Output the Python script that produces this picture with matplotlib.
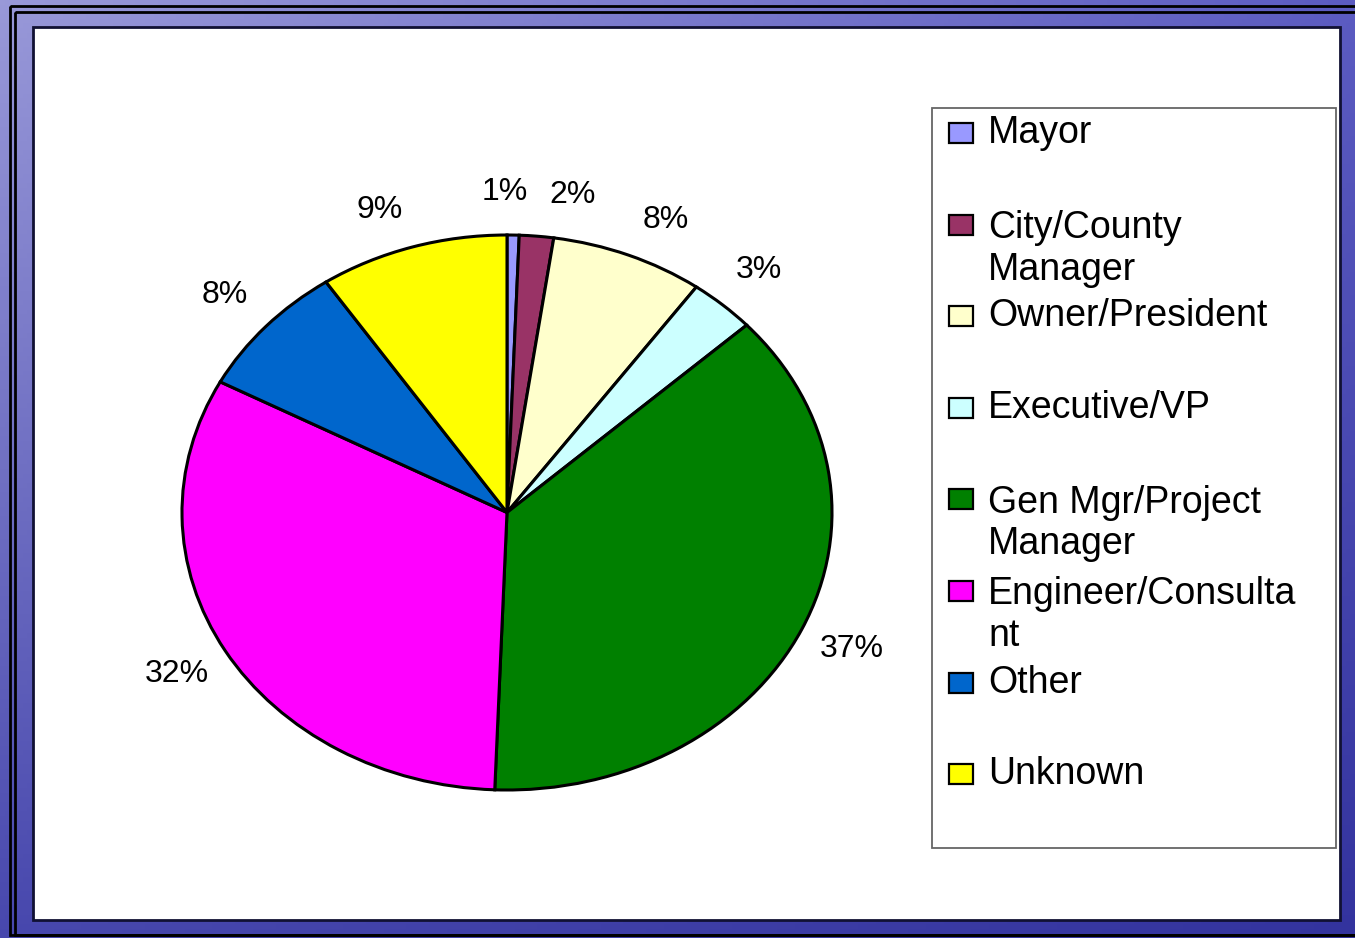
import numpy as np
import matplotlib
matplotlib.use("Agg")
import matplotlib.pyplot as plt
from matplotlib.patches import Rectangle

# --- data -------------------------------------------------------------
categories = ["Mayor", "City/County Manager", "Owner/President", "Executive/VP",
              "Gen Mgr/Project Manager", "Engineer/Consultant", "Other", "Unknown"]
legend_labels = ["Mayor", "City/County\nManager", "Owner/President", "Executive/VP",
                 "Gen Mgr/Project\nManager", "Engineer/Consulta\nnt", "Other", "Unknown"]
shares = [0.6, 1.7, 7.6, 3.3, 37.4, 32.2, 7.8, 9.4]
colors = ["#9999FF", "#993366", "#FFFFCC", "#CCFFFF",
          "#008000", "#FF00FF", "#0066CC", "#FFFF00"]

# label nudges (data units) for slices where Excel moved the label
label_nudge = {0: (-0.03, -0.015), 1: (0.095, -0.02), 2: (0.05, -0.03), 7: (-0.05, -0.03)}

plt.rcParams['font.family'] = ['Liberation Sans', 'DejaVu Sans']

W, H = 1355, 938
fig = plt.figure(figsize=(W / 100, H / 100), dpi=100)

# background axes in pixel coordinates (y down)
bg = fig.add_axes([0, 0, 1, 1])
bg.set_xlim(0, W)
bg.set_ylim(H, 0)
bg.axis('off')

# blue slide background, lighter top-left, darker bottom-right
yy, xx = np.mgrid[0:1:200j, 0:1:300j]
tl = np.array([0.60, 0.60, 0.85])
tr = np.array([0.36, 0.36, 0.76])
bl = np.array([0.28, 0.28, 0.68])
br = np.array([0.20, 0.20, 0.62])
grad = ((1 - yy)[..., None] * ((1 - xx)[..., None] * tl + xx[..., None] * tr)
        + yy[..., None] * ((1 - xx)[..., None] * bl + xx[..., None] * br))
bg.imshow(grad, extent=[0, W, H, 0], aspect='auto', zorder=0)

# double black frame lines (slide is cropped on the right)
bg.add_patch(Rectangle((10, 6), W + 50, 929, fill=False, ec='black', lw=2, zorder=1))
bg.add_patch(Rectangle((15, 12), W + 50, 923, fill=False, ec='black', lw=2, zorder=1))

# white chart panel
bg.add_patch(Rectangle((33, 27), 1307, 893, fc='white', ec='#111133', lw=2, zorder=2))

# legend box drawn by hand (first line of each entry carries the key)
bg.add_patch(Rectangle((932, 108), 404, 740, fc='white', ec='#666666', lw=1.3, zorder=3))
leg_fs = 27
line_h = 1.2 * leg_fs * 100 / 72
first_baseline = 143
step = 91.6
for i, (lab, col) in enumerate(zip(legend_labels, colors)):
    base = first_baseline + i * step
    nlines = lab.count("\n") + 1
    bg.add_patch(Rectangle((949, base - 20), 24, 20, fc=col, ec='black', lw=1.6, zorder=4))
    # va='baseline' pins the last line, so shift down for wrapped labels
    bg.text(988, base + (nlines - 1) * line_h, lab, fontsize=leg_fs,
            va='baseline', ha='left', linespacing=1.2, zorder=5, color='black')

# pie, stretched into an ellipse
ax = fig.add_axes([182 / W, (H - 790) / H, 650 / W, 555 / H])
wedges, texts, autotexts = ax.pie(
    shares, colors=colors, startangle=90, counterclock=False,
    autopct='%1.0f%%', pctdistance=1.17,
    wedgeprops=dict(edgecolor='black', linewidth=2.2),
    textprops=dict(fontsize=23, color='black'))
ax.set_aspect('auto')
ax.set_xlim(-1, 1)
ax.set_ylim(-1, 1)
ax.axis('off')
for i, (dx, dy) in label_nudge.items():
    x, y = autotexts[i].get_position()
    autotexts[i].set_position((x + dx, y + dy))
for t in autotexts:
    t.set_clip_on(False)

fig.savefig("out.png", dpi=100)
